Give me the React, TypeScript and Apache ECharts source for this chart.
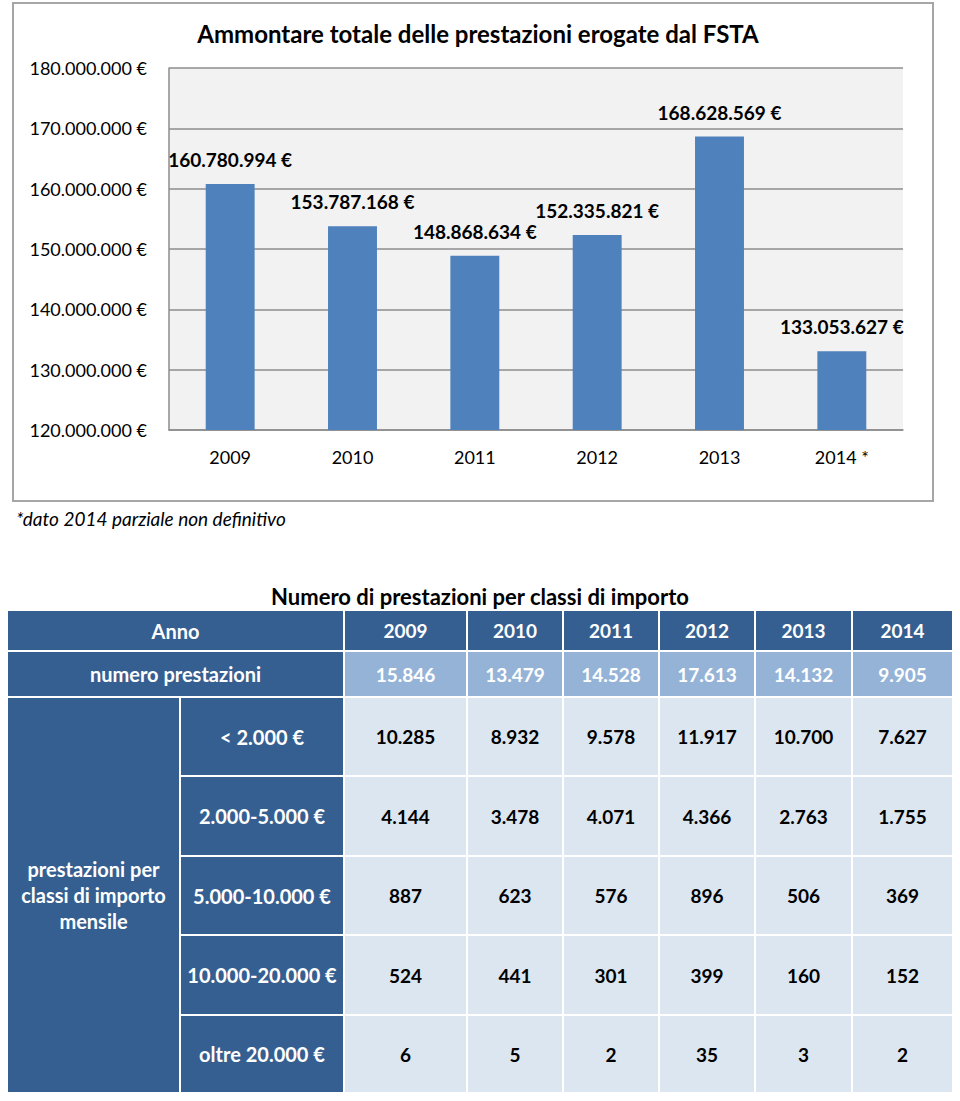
import React, { useEffect, useRef } from 'react';
import * as echarts from 'echarts';

// ---- Bar chart data ----
const years = ['2009', '2010', '2011', '2012', '2013', '2014 *'];
const amounts = [160780994, 153787168, 148868634, 152335821, 168628569, 133053627];

// ---- Table data ----
const tableYears = ['2009', '2010', '2011', '2012', '2013', '2014'];
const totalCounts = [15846, 13479, 14528, 17613, 14132, 9905];
const classLabels = ['< 2.000 €', '2.000-5.000 €', '5.000-10.000 €', '10.000-20.000 €', 'oltre 20.000 €'];
const classUnder2000 = [10285, 8932, 9578, 11917, 10700, 7627];
const class2000to5000 = [4144, 3478, 4071, 4366, 2763, 1755];
const class5000to10000 = [887, 623, 576, 896, 506, 369];
const class10000to20000 = [524, 441, 301, 399, 160, 152];
const classOver20000 = [6, 5, 2, 35, 3, 2];
const classRows = [classUnder2000, class2000to5000, class5000to10000, class10000to20000, classOver20000];

const FONT = 'Lato, "Open Sans", sans-serif';
const DARK = '#365f91';
const MID = '#95b3d7';
const LIGHT = '#dce6f1';

const dots = (n: number) => String(n).replace(/\B(?=(\d{3})+(?!\d))/g, '.');

function txt(x: number, y: number, text: string, size: number, fill: string, weight = 'bold', extra: any = {}) {
  return {
    type: 'text',
    x,
    y,
    z: 10,
    style: {
      text,
      fill,
      font: `${weight} ${size}px ${FONT}`,
      align: 'center',
      verticalAlign: 'middle',
      textAlign: 'center',
      textVerticalAlign: 'middle',
      ...extra,
    },
  };
}

function rect(x: number, y: number, w: number, h: number, fill: string) {
  return {
    type: 'rect',
    z: 5,
    shape: { x, y, width: w, height: h },
    style: { fill, stroke: '#ffffff', lineWidth: 2 },
  };
}

function buildTable() {
  const colX = [7, 180, 344, 467, 563, 659, 755, 852, 953];
  const rowY = [610, 651, 697, 776, 856, 935, 1015, 1093];
  const els: any[] = [];
  const cx = (i: number) => (colX[i] + colX[i + 1]) / 2;
  const cy = (j: number) => (rowY[j] + rowY[j + 1]) / 2;

  els.push(txt(480, 596, 'Numero di prestazioni per classi di importo', 22, '#000000'));

  // header row
  els.push(rect(colX[0], rowY[0], colX[2] - colX[0], rowY[1] - rowY[0], DARK));
  els.push(txt((colX[0] + colX[2]) / 2, cy(0), 'Anno', 20, '#ffffff'));
  tableYears.forEach((y, i) => {
    els.push(rect(colX[i + 2], rowY[0], colX[i + 3] - colX[i + 2], rowY[1] - rowY[0], DARK));
    els.push(txt(cx(i + 2), cy(0), y, 19, '#ffffff'));
  });

  // totals row
  els.push(rect(colX[0], rowY[1], colX[2] - colX[0], rowY[2] - rowY[1], DARK));
  els.push(txt((colX[0] + colX[2]) / 2, cy(1), 'numero prestazioni', 20, '#ffffff'));
  totalCounts.forEach((v, i) => {
    els.push(rect(colX[i + 2], rowY[1], colX[i + 3] - colX[i + 2], rowY[2] - rowY[1], MID));
    els.push(txt(cx(i + 2), cy(1), dots(v), 19, '#ffffff'));
  });

  // merged label
  els.push(rect(colX[0], rowY[2], colX[1] - colX[0], rowY[7] - rowY[2], DARK));
  els.push(
    txt(cx(0), (rowY[2] + rowY[7]) / 2, 'prestazioni per\nclassi di importo\nmensile', 20, '#ffffff', 'bold', {
      lineHeight: 26,
    })
  );

  classRows.forEach((row, j) => {
    const r = j + 2;
    els.push(rect(colX[1], rowY[r], colX[2] - colX[1], rowY[r + 1] - rowY[r], DARK));
    els.push(txt(cx(1), cy(r), classLabels[j], 20, '#ffffff'));
    row.forEach((v, i) => {
      els.push(rect(colX[i + 2], rowY[r], colX[i + 3] - colX[i + 2], rowY[r + 1] - rowY[r], LIGHT));
      els.push(txt(cx(i + 2), cy(r), dots(v), 19, '#000000'));
    });
  });
  return els;
}

export default function App() {
  const ref = useRef<HTMLDivElement>(null);
  useEffect(() => {
    if (!ref.current) return;
    const chart = echarts.init(ref.current, undefined, { renderer: 'svg' });
    chart.setOption({
      animation: false,
      backgroundColor: '#ffffff',
      title: {
        text: 'Ammontare totale delle prestazioni erogate dal FSTA',
        left: 473,
        textAlign: 'center',
        top: 16,
        textStyle: { fontFamily: FONT, fontWeight: 'bold', fontSize: 24, color: '#000000' },
      },
      grid: {
        left: 169,
        right: 57,
        top: 68,
        bottom: 671,
        show: true,
        backgroundColor: '#f2f2f2',
        borderWidth: 0,
        borderColor: 'transparent',
      },
      xAxis: {
        type: 'category',
        data: years,
        axisLine: { show: true, lineStyle: { color: '#8c8c8c', width: 1.5 } },
        axisTick: { show: false },
        axisLabel: { color: '#000000', fontFamily: FONT, fontSize: 18, margin: 18 },
      },
      yAxis: {
        type: 'value',
        min: 120000000,
        max: 180000000,
        interval: 10000000,
        axisLine: { show: true, lineStyle: { color: '#8c8c8c', width: 1.5 } },
        axisTick: { show: false },
        splitLine: { show: true, lineStyle: { color: '#8c8c8c', width: 1.5 } },
        axisLabel: {
          color: '#000000',
          fontFamily: FONT,
          fontSize: 18,
          margin: 22,
          formatter: (v: number) => `${dots(v)} €`,
        },
      },
      series: [
        {
          type: 'bar',
          data: amounts,
          barWidth: '40%',
          itemStyle: { color: '#4f81bd' },
          label: {
            show: true,
            position: 'top',
            distance: 15,
            color: '#000000',
            fontFamily: FONT,
            fontWeight: 'bold',
            fontSize: 19,
            formatter: (p: any) => `${dots(p.value)} €`,
          },
        },
      ],
      graphic: [
        {
          type: 'rect',
          z: -1,
          shape: { x: 13, y: 3, width: 920, height: 498 },
          style: { fill: 'transparent', stroke: '#a6a6a6', lineWidth: 2 },
          silent: true,
        },
        txt(16, 518, '*dato 2014 parziale non definitivo', 19, '#000000', 'italic', {
          align: 'left',
          textAlign: 'left',
        }),
        ...buildTable(),
      ],
    });
    return () => chart.dispose();
  }, []);
  return <div ref={ref} style={{ position: 'absolute', left: 0, top: 0, width: 960, height: 1101 }} />;
}
